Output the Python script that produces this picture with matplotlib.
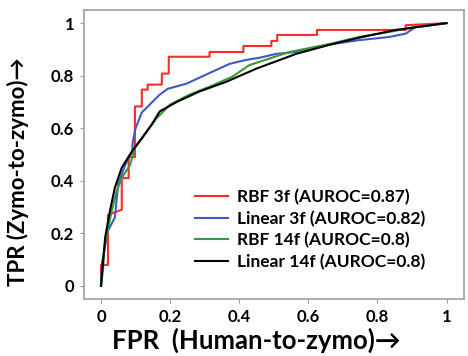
import matplotlib
matplotlib.use("Agg")
import matplotlib.pyplot as plt

plt.rcParams['font.family'] = ['Lato', 'DejaVu Sans']
plt.rcParams['font.weight'] = 'bold'

# RBF 3f (step curve)
rbf3_fpr = [0, 0, 0.02, 0.02, 0.06, 0.06, 0.08, 0.08, 0.098, 0.098, 0.118, 0.118,
            0.135, 0.135, 0.176, 0.176, 0.196, 0.196, 0.314, 0.314, 0.412, 0.412,
            0.493, 0.493, 0.51, 0.51, 0.625, 0.625, 0.882, 0.882, 1.0]
rbf3_tpr = [0, 0.08, 0.08, 0.27, 0.29, 0.41, 0.41, 0.49, 0.49, 0.683, 0.683, 0.747,
            0.747, 0.766, 0.766, 0.808, 0.808, 0.872, 0.872, 0.89, 0.89, 0.913,
            0.913, 0.932, 0.932, 0.955, 0.955, 0.974, 0.974, 0.992, 1.0]

# Linear 3f
lin3_fpr = [0, 0.003, 0.02, 0.04, 0.046, 0.05, 0.07, 0.09, 0.092, 0.1, 0.118, 0.141,
            0.17, 0.193, 0.248, 0.314, 0.372, 0.42, 0.458, 0.507, 0.565, 0.651,
            0.746, 0.833, 0.882, 0.91, 1.0]
lin3_tpr = [0, 0.09, 0.21, 0.26, 0.34, 0.39, 0.46, 0.51, 0.55, 0.6, 0.66, 0.69,
            0.728, 0.75, 0.77, 0.81, 0.845, 0.86, 0.868, 0.883, 0.89, 0.917,
            0.935, 0.947, 0.96, 0.985, 1.0]

# RBF 14f
rbf14_fpr = [0, 0.006, 0.01, 0.03, 0.045, 0.06, 0.084, 0.098, 0.127, 0.161, 0.2,
             0.256, 0.314, 0.38, 0.429, 0.545, 0.66, 0.746, 0.833, 0.91, 1.0]
rbf14_tpr = [0, 0.068, 0.15, 0.28, 0.36, 0.41, 0.46, 0.525, 0.577, 0.638, 0.69,
             0.728, 0.758, 0.796, 0.84, 0.89, 0.92, 0.947, 0.966, 0.985, 1.0]

# Linear 14f
lin14_fpr = [0, 0.003, 0.012, 0.026, 0.04, 0.06, 0.09, 0.118, 0.147, 0.17, 0.219,
             0.285, 0.363, 0.45, 0.565, 0.66, 0.755, 0.853, 1.0]
lin14_tpr = [0, 0.05, 0.185, 0.287, 0.374, 0.45, 0.513, 0.562, 0.615, 0.664, 0.70,
             0.74, 0.777, 0.827, 0.883, 0.917, 0.947, 0.974, 1.0]

labels = ['RBF 3f (AUROC=0.87)', 'Linear 3f (AUROC=0.82)',
          'RBF 14f (AUROC=0.8)', 'Linear 14f (AUROC=0.8)']
ticks = [0, 0.2, 0.4, 0.6, 0.8, 1]
tick_labels = ['0', '0.2', '0.4', '0.6', '0.8', '1']

fig = plt.figure(figsize=(4.68, 3.56), dpi=100)
ax = fig.add_axes([0.179, 0.160, 0.812, 0.812])

ax.plot(rbf3_fpr, rbf3_tpr, color='#ff2a2a', lw=1.5, label=labels[0])
ax.plot(lin3_fpr, lin3_tpr, color='#4058c4', lw=1.5, label=labels[1])
ax.plot(rbf14_fpr, rbf14_tpr, color='#3a9a3a', lw=1.5, label=labels[2])
ax.plot(lin14_fpr, lin14_tpr, color='black', lw=1.5, label=labels[3])

ax.set_xlim(-0.05, 1.05)
ax.set_ylim(-0.05, 1.05)
ax.set_xticks(ticks)
ax.set_xticklabels(tick_labels)
ax.set_yticks(ticks)
ax.set_yticklabels(tick_labels)
ax.tick_params(axis='both', labelsize=12, length=3, color='#a0a0a0', pad=4)
for lab in ax.get_xticklabels() + ax.get_yticklabels():
    lab.set_fontweight('bold')
for s in ax.spines.values():
    s.set_color('#a0a0a0')
    s.set_linewidth(1.2)

ax.set_xlabel('FPR  (Human-to-zymo)\u2192', fontsize=18.5, fontweight='bold')
ax.xaxis.set_label_coords(0.455, -0.1)
ax.set_ylabel('TPR (Zymo-to-zymo)\u2192', fontsize=16, fontweight='bold')
ax.yaxis.set_label_coords(-0.145, 0.44)

leg = ax.legend(loc='lower right', bbox_to_anchor=(0.925, 0.065), frameon=False,
                fontsize=12.5, handlelength=1.9, handletextpad=0.5,
                labelspacing=0.3, borderaxespad=0.2)
for t in leg.get_texts():
    t.set_fontweight('bold')

fig.savefig('out.png', dpi=100)
